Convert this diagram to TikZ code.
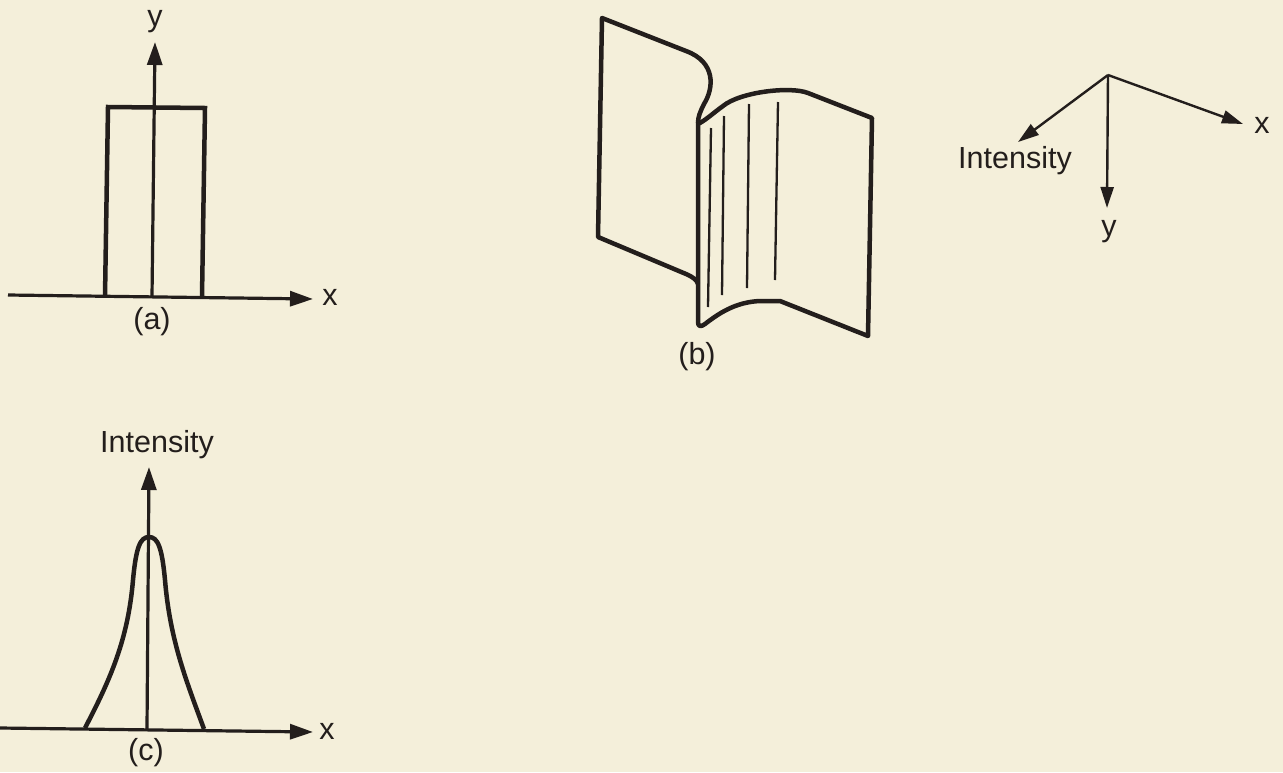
\documentclass[tikz,border=0pt]{standalone}
\usepackage{fontspec}
\setmainfont{Liberation Sans}
\usetikzlibrary{arrows.meta}
\definecolor{paper}{RGB}{244,239,218}
\definecolor{ink}{RGB}{35,30,28}
\begin{document}
\begin{tikzpicture}[x=1pt,y=-1pt,
  lbl/.style={font=\fontsize{30.5}{36}\selectfont, text=ink, inner sep=0pt},
  axis/.style={draw=ink, line width=3.2pt, -{Triangle[length=23pt,width=15pt]}},
  thinaxis/.style={draw=ink, line width=2.4pt, -{Triangle[length=21pt,width=13pt]}},
  outline/.style={draw=ink, line width=4.5pt, line join=round},
  foldline/.style={draw=ink, line width=2.3pt}]
\fill[paper] (0,0) rectangle (1283,772);
\useasboundingbox (0,0) rectangle (1283,772);

% ---------- (a) ----------
\coordinate (ax0) at (8,295);
\coordinate (ax1) at (313,299);
\coordinate (ay0) at (152,297);
\coordinate (ay1) at (155,42);
\node[lbl] (axl) at (330,297) {x};
\node[lbl] (ayl) at (155,22) {y};
\node[lbl] (la) at (152,322) {(a)};
\draw[outline, line join=miter] (105,297) -- (108,107) -- (205,108) -- (202,297);
\draw[axis] (ax0) -- (ax1);
\draw[axis] (ay0) -- (ay1);

% ---------- (c) ----------
\coordinate (cx0) at (0,728);
\coordinate (cx1) at (313,732);
\coordinate (cy0) at (147,729);
\coordinate (cy1) at (149,467);
\node[lbl] (cxl) at (327,731) {x};
\node[lbl] (cyl) at (157,445) {Intensity};
\node[lbl] (lc) at (146,753) {(c)};
\draw[outline] (85,728) .. controls (110,680) and (128,640) .. (133,580)
  .. controls (136,548) and (140,537) .. (149,537)
  .. controls (158,537) and (162,548) .. (165,580)
  .. controls (170,640) and (186,680) .. (204,729);
\draw[axis] (cx0) -- (cx1);
\draw[axis] (cy0) -- (cy1);

% ---------- (b) ----------
% left sheet
\draw[outline] (698,123) .. controls (698,117) and (700,112) .. (704,104)
  .. controls (714,88) and (716,62) .. (686,51) -- (602,18) -- (598,237) -- (686,274)
  .. controls (693,277) and (697,280) .. (698,284);
% right sheet
\draw[outline] (698,122) -- (698,322) .. controls (698,327) and (701,327) .. (705,324)
  .. controls (718,314) and (735,302) .. (760,301) -- (780,301) -- (868,336) -- (872,118) -- (808,93)
  .. controls (790,86) and (740,92) .. (723,106) .. controls (712,114) and (706,120) .. (698,124);
\draw[foldline] (711,128) -- (708,307);
\draw[foldline] (724,116) -- (722,295);
\draw[foldline] (749,104) -- (747,288);
\draw[foldline] (778,102) -- (775,280);
\node[lbl] (lb) at (697,357) {(b)};

% ---------- coordinate frame ----------
\coordinate (o) at (1108,75);
\coordinate (fx) at (1243,124);
\coordinate (fy) at (1107,208);
\coordinate (fi) at (1018,142);
\draw[thinaxis] (o) -- (fx);
\draw[thinaxis] (o) -- (fy);
\draw[thinaxis] (o) -- (fi);
\node[lbl] (fxl) at (1262,125) {x};
\node[lbl] (fyl) at (1109,232) {y};
\node[lbl] (fil) at (1015,161) {Intensity};
\end{tikzpicture}
\end{document}
